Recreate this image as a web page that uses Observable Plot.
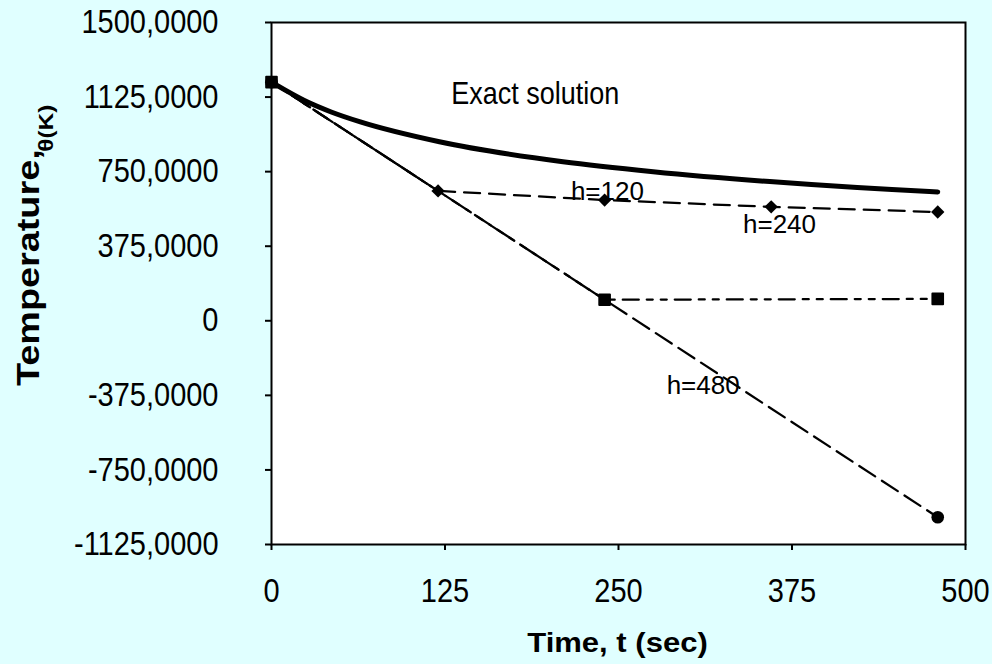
<!DOCTYPE html>
<html>
<head>
<meta charset="utf-8">
<script src="https://cdn.jsdelivr.net/npm/d3@7"></script>
<script src="https://cdn.jsdelivr.net/npm/@observablehq/plot@0.6"></script>
<style>
  html, body { margin: 0; padding: 0; background: #e0ffff; }
  svg { display: block; }
</style>
</head>
<body>
<div id="chart"></div>
<script>
// ---- data ----
const exactTime = [0, 26, 43, 64, 121, 210, 275, 359, 474, 480];
const exactTemp = [1200, 1100, 1050, 1000, 900, 800, 750, 700, 650, 648];

const h120Time = [0, 120, 240, 360, 480];
const h120Temp = [1200, 653, 607, 573, 547];

const h240Time = [0, 240, 480];
const h240Temp = [1200, 106, 110];

const h480Time = [0, 480];
const h480Temp = [1200, -988];

const xTicks = [0, 125, 250, 375, 500];
const xTickLabels = ["0", "125", "250", "375", "500"];
const yTicks = [-1125, -750, -375, 0, 375, 750, 1125, 1500];
const yTickLabels = ["-1125,0000", "-750,0000", "-375,0000", "0", "375,0000", "750,0000", "1125,0000", "1500,0000"];

const annoText = ["Exact solution", "h=120", "h=240", "h=480"];
const annoTime = [190, 242, 366, 311];
const annoTemp = [1142, 647, 485, -326];

// ---- tables ----
const toRows = (ts, vs) => ts.map((t, i) => ({t, v: vs[i]}));
const exact = toRows(exactTime, exactTemp);
const h120 = toRows(h120Time, h120Temp);
const h240 = toRows(h240Time, h240Temp);
const h480 = toRows(h480Time, h480Temp);
const annos = annoText.map((s, i) => ({s, t: annoTime[i], v: annoTemp[i], big: i === 0}));
const xLab = new Map(xTicks.map((d, i) => [d, xTickLabels[i]]));
const yLab = new Map(yTicks.map((d, i) => [d, yTickLabels[i]]));

const FONT = "'Liberation Sans', Arial, Helvetica, sans-serif";

const plot = Plot.plot({
  width: 992,
  height: 664,
  marginLeft: 271,
  marginRight: 27,
  marginTop: 22,
  marginBottom: 120,
  style: {background: "transparent", fontFamily: FONT, fontSize: "29px", color: "black"},
  x: {domain: [0, 500]},
  y: {domain: [-1125, 1500]},
  marks: [
    Plot.frame({fill: "white"}),
    Plot.axisY({ticks: yTicks, tickFormat: d => yLab.get(d), tickSize: 6, tickPadding: 47,
      fontSize: 29, strokeWidth: 2, label: null}),
    Plot.axisX({ticks: xTicks, tickFormat: d => xLab.get(d), tickSize: 6, tickPadding: 28,
      fontSize: 29, strokeWidth: 2, label: null}),
    Plot.line(h480, {x: "t", y: "v", stroke: "black", strokeWidth: 2.25, strokeDasharray: "19,8"}),
    Plot.line(h240, {x: "t", y: "v", stroke: "black", strokeWidth: 2.25, strokeDasharray: "16,8,6,8,6,8"}),
    Plot.line(h120, {x: "t", y: "v", stroke: "black", strokeWidth: 2.25, strokeDasharray: "16,9"}),
    Plot.line(exact, {x: "t", y: "v", stroke: "black", strokeWidth: 5, curve: "monotone-x"}),
    Plot.dot(h480, {x: "t", y: "v", symbol: "circle", r: 6.3, fill: "black"}),
    Plot.dot(h240, {x: "t", y: "v", symbol: "square", r: 6, fill: "black", stroke: "black", strokeWidth: 2, strokeLinejoin: "round"}),
    Plot.dot(h120, {x: "t", y: "v", symbol: "diamond2", r: 6, fill: "black"}),
    Plot.text(annos.filter(d => d.big), {x: "t", y: "v", text: "s", fontSize: 27, fill: "black"}),
    Plot.text(annos.filter(d => !d.big), {x: "t", y: "v", text: "s", fontSize: 26, fill: "black"}),
    Plot.frame({stroke: "black", strokeWidth: 2})
  ]
});

// stretch glyphs to match the reference's font proportions
function stretch(el, sx, sy) {
  const x = +el.getAttribute("x") || 0, y = +el.getAttribute("y") || 0;
  const tr = el.getAttribute("transform") || "";
  el.setAttribute("transform", `${tr} translate(${x},${y}) scale(${sx},${sy}) translate(${-x},${-y})`);
}
const svg = d3.select(plot);
svg.selectAll("text").each(function() {
  const s = this.textContent;
  if (s === "Exact solution") stretch(this, 1, 1.18);
  else if (xTickLabels.includes(s) || yTickLabels.includes(s)) stretch(this, 1, 1.14);
});

// y axis title with subscript
const yt = svg.append("text")
  .attr("transform", "translate(39,386) rotate(-90) scale(1.22,1)")
  .attr("text-anchor", "start")
  .attr("font-family", FONT)
  .attr("font-weight", "bold")
  .attr("font-size", 31)
  .attr("fill", "black");
yt.append("tspan").text("Temperature,");
yt.append("tspan").attr("font-size", 20).attr("dx", -2).attr("dy", 14).text("θ(K)");
// x axis title
svg.append("text")
  .attr("transform", "translate(617.5,652) scale(1.15,1)")
  .attr("text-anchor", "middle")
  .attr("font-family", FONT)
  .attr("font-weight", "bold")
  .attr("font-size", 27)
  .attr("fill", "black")
  .text("Time, t (sec)");

document.getElementById("chart").appendChild(plot);
</script>
</body>
</html>
